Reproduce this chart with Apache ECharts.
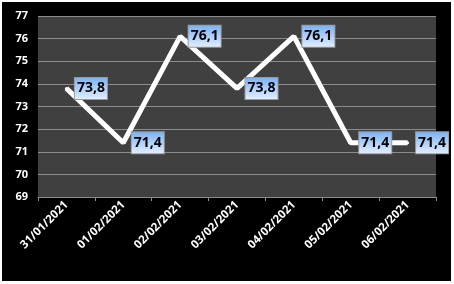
<!DOCTYPE html>
<html>
<head>
<meta charset="utf-8">
<script src="https://cdn.jsdelivr.net/npm/echarts@6/dist/echarts.min.js"></script>
<style>
    html, body { margin: 0; padding: 0; background: #fff; }
    #line-chart {
        position: absolute;
        left: 2px;
        top: 2px;
        width: 449px;
        height: 279px;
        background: #000;
    }
</style>
</head>
<body>
<div id="line-chart"></div>
<script>
    var dates = ['31/01/2021', '01/02/2021', '02/02/2021', '03/02/2021', '04/02/2021', '05/02/2021', '06/02/2021'];
    var values = [73.8, 71.4, 76.1, 73.8, 76.1, 71.4, 71.4];
    var yMin = 69, yMax = 77, yStep = 1;

    var myChart = echarts.init(document.getElementById('line-chart'));
    var fontFam = '"Open Sans", "Liberation Sans", Arial, sans-serif';

    myChart.setOption({
        animation: false,
        backgroundColor: '#000',
        grid: {
            left: 36,
            right: 15,
            top: 14,
            bottom: 84,
            show: true,
            backgroundColor: '#404040',
            borderWidth: 0
        },
        xAxis: {
            type: 'category',
            boundaryGap: true,
            data: dates,
            axisLine: { lineStyle: { color: '#8c8c8c', width: 1 } },
            axisTick: { show: true, length: 4, lineStyle: { color: '#8c8c8c' } },
            axisLabel: {
                rotate: 45,
                color: '#fff',
                fontWeight: 'bold',
                fontSize: 11.5,
                fontFamily: fontFam,
                margin: 6
            }
        },
        yAxis: {
            type: 'value',
            min: yMin,
            max: yMax,
            interval: yStep,
            axisLine: { show: false },
            axisTick: { show: false },
            splitLine: { lineStyle: { color: '#8c8c8c', width: 1 } },
            axisLabel: {
                color: '#fff',
                fontWeight: 'bold',
                fontSize: 11,
                fontFamily: fontFam,
                margin: 10
            }
        },
        series: [{
            type: 'line',
            data: values,
            symbol: 'circle',
            symbolSize: 3,
            itemStyle: { color: '#fff' },
            lineStyle: { color: '#fff', width: 5 },
            label: {
                show: true,
                position: 'right',
                distance: 7,
                formatter: function (p) { return String(p.value).replace('.', ','); },
                color: '#000',
                fontWeight: 'bold',
                fontSize: 14,
                fontFamily: fontFam,
                padding: [4, 2, 3, 2],
                borderColor: '#9a9a9a',
                borderWidth: 1,
                backgroundColor: new echarts.graphic.LinearGradient(0, 0, 0, 1, [
                    { offset: 0, color: '#78b0f3' },
                    { offset: 1, color: '#e4f0ff' }
                ])
            }
        }]
    });
</script>
</body>
</html>
